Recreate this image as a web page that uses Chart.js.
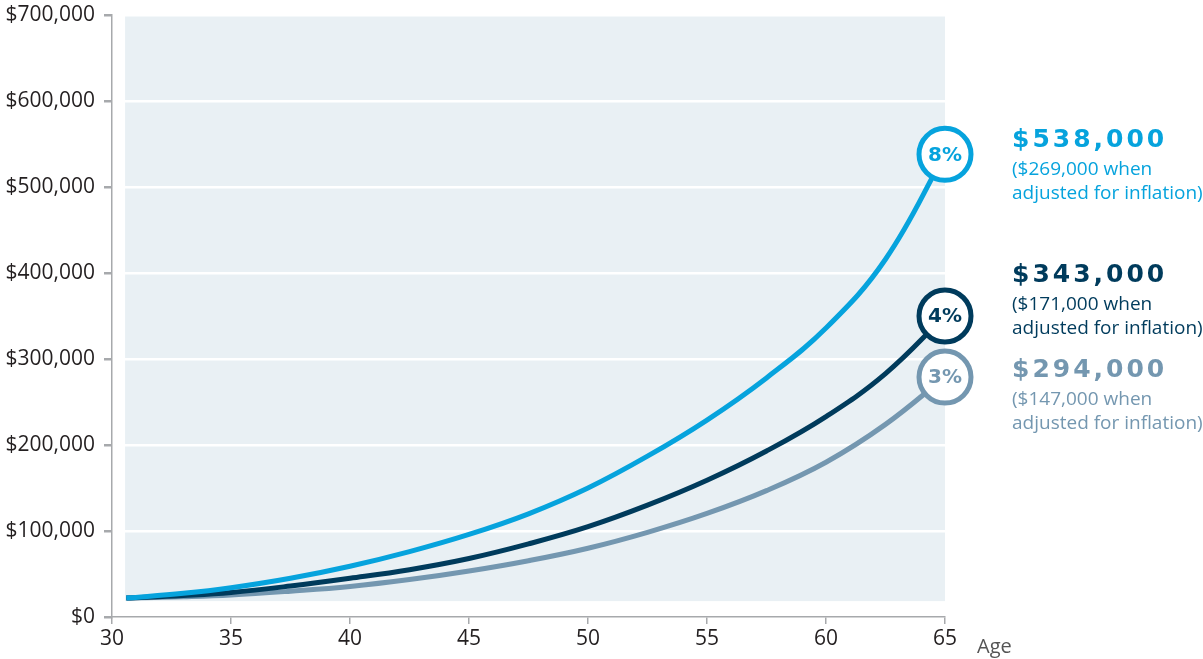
<!DOCTYPE html>
<html>
<head>
<meta charset="utf-8">
<script src="https://cdn.jsdelivr.net/npm/chart.js@4/dist/chart.umd.min.js"></script>
<style>
    body { margin: 0; background: #fff; }
    #wrap { width: 1203px; height: 659px; position: relative; }
</style>
</head>
<body>
<div id="wrap"><canvas id="chart" width="1203" height="659"></canvas></div>
<script>
// idades (eixo x)
const ages = [30.6, 33, 35, 37.5, 40, 42.5, 45, 47.5, 50, 52.5, 55, 57.5, 60, 62.5, 65];
// valores
const growth8 = [22000, 27500, 34000, 45000, 59000, 76000, 96000, 120000, 150000, 187000, 229000, 278000, 336000, 416000, 538000];
const growth4 = [22000, 25000, 28500, 36000, 45000, 55000, 68000, 85000, 105000, 130000, 159000, 193000, 233000, 283000, 350000];
const growth3 = [22000, 23500, 25500, 30000, 35500, 43500, 53500, 65500, 80000, 98500, 120500, 147000, 180000, 224000, 279000];
const rateLabels = ['8%', '4%', '3%'];
const totals = ['$538,000', '$343,000', '$294,000'];
const adjusted = ['($269,000 when', '($171,000 when', '($147,000 when'];
const yTicks = [0, 100000, 200000, 300000, 400000, 500000, 600000, 700000];
const xTicks = [30, 35, 40, 45, 50, 55, 60, 65];

const cores = ['#06a3dd', '#003b5c', '#7497b0'];

function serie(valores) {
    return ages.map(function (a, i) { return {x: a, y: valores[i]}; });
}

function raios(n) {
    let r = [];
    for (let i = 0; i < n; i++) r.push(i === n - 1 ? 26 : 0);
    return r;
}

// fundo cinza-azulado da area do grafico
const fundo = {
    id: 'fundo',
    beforeDraw: function (chart) {
        let x = chart.scales.x, y = chart.scales.y, ctx = chart.ctx;
        let l = x.getPixelForValue(30.55), r = x.getPixelForValue(65);
        let t = y.getPixelForValue(700000), b = y.getPixelForValue(18500);
        ctx.save();
        ctx.fillStyle = '#e9f0f4';
        ctx.fillRect(l, t, r - l, b - t);
        ctx.restore();
    }
};

// textos dos circulos e legendas da direita
const rotulos = {
    id: 'rotulos',
    afterDatasetsDraw: function (chart) {
        let ctx = chart.ctx;
        ctx.save();
        chart.data.datasets.forEach(function (ds, i) {
            let meta = chart.getDatasetMeta(i);
            let p = meta.data[meta.data.length - 1];
            ctx.fillStyle = cores[i];
            ctx.font = 'bold 20px "DejaVu Sans"';
            ctx.textAlign = 'center';
            ctx.textBaseline = 'middle';
            ctx.fillText(rateLabels[i], p.x, p.y + 1);
        });

        let bigY = [140, 275, 370];
        let textX = 1012;
        ctx.textAlign = 'left';
        ctx.textBaseline = 'middle';
        for (let i = 0; i < 3; i++) {
            ctx.fillStyle = cores[i];
            ctx.font = 'bold 25px "DejaVu Sans"';
            ctx.letterSpacing = '3px';
            ctx.fillText(totals[i], textX, bigY[i]);
            ctx.letterSpacing = '0px';
            ctx.font = '19px "Open Sans"';
            ctx.fillText(adjusted[i], textX, bigY[i] + 30);
            ctx.fillText('adjusted for inflation)', textX, bigY[i] + 54);
        }

        ctx.fillStyle = '#555';
        ctx.font = '20px "Open Sans"';
        ctx.fillText('Age', 977, 647);
        ctx.restore();
    }
};

const ctx = document.getElementById('chart').getContext('2d');
const data = {
    datasets: [
        {label: '8%', data: serie(growth8), order: 0},
        {label: '4%', data: serie(growth4), order: 1},
        {label: '3%', data: serie(growth3), order: 2}
    ].map(function (d, i) {
        return Object.assign(d, {
            borderColor: cores[i],
            borderWidth: 5,
            pointRadius: raios(ages.length),
            pointBorderWidth: 5,
            pointBorderColor: cores[i],
            pointBackgroundColor: '#fff',
            tension: 0.4,
            clip: false
        });
    })
};

const config = {
    type: 'line',
    data,
    options: {
        responsive: false,
        animation: false,
        layout: {autoPadding: false, padding: {top: 15, right: 258, bottom: 0, left: 0}},
        plugins: {legend: {display: false}, tooltip: {enabled: false}},
        scales: {
            x: {
                type: 'linear',
                min: 30,
                max: 65,
                afterBuildTicks: function (s) { s.ticks = xTicks.map(function (v) { return {value: v}; }); },
                afterFit: function (s) { s.height = 42; },
                grid: {drawOnChartArea: false, tickColor: '#a7a9ac', tickLength: 7, lineWidth: 1.5},
                border: {color: '#a7a9ac', width: 1.5},
                ticks: {color: '#231f20', font: {family: 'Open Sans', size: 21}, padding: 2, maxRotation: 0}
            },
            y: {
                min: 0,
                max: 700000,
                afterBuildTicks: function (s) { s.ticks = yTicks.map(function (v) { return {value: v}; }); },
                afterFit: function (s) {
                    s.width = 112;
                    s.paddingTop = 0;
                    s.paddingBottom = 0;
                },
                grid: {
                    color: function (c) { return c.tick && c.tick.value === 0 ? 'rgba(0,0,0,0)' : '#ffffff'; },
                    lineWidth: 2.5,
                    tickColor: '#a7a9ac',
                    tickLength: 8
                },
                border: {color: '#a7a9ac', width: 1.5},
                ticks: {
                    color: '#231f20',
                    font: {family: 'Open Sans', size: 21},
                    padding: 9,
                    callback: function (v) { return '$' + v.toLocaleString('en-US'); }
                }
            }
        }
    },
    plugins: [fundo, rotulos]
};
myChart = new Chart(ctx, config);
</script>
</body>
</html>
